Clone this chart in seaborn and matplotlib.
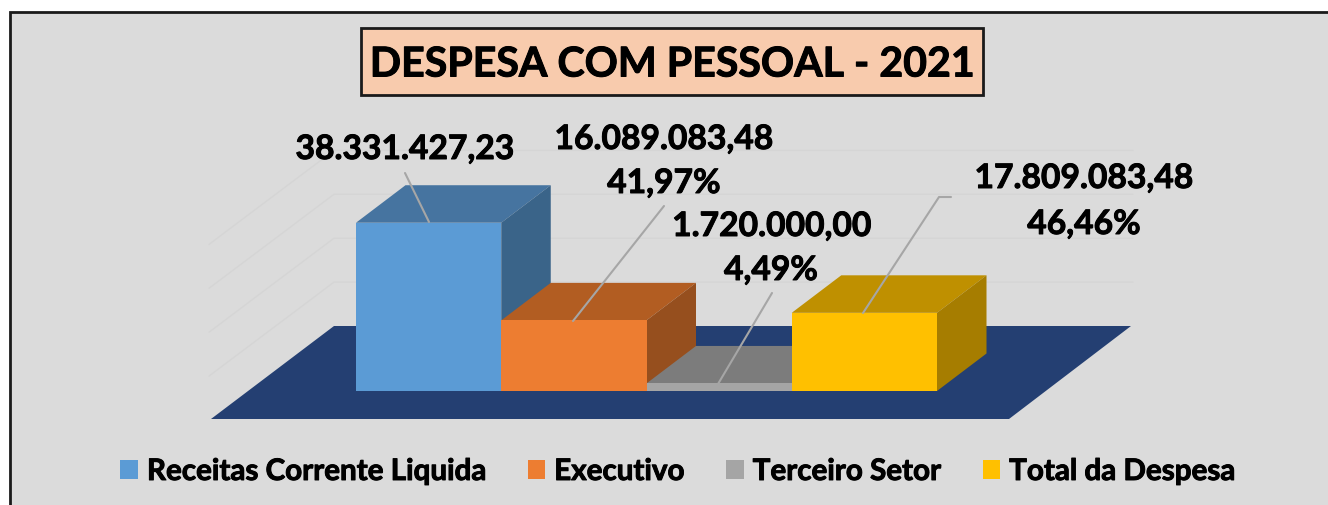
import pandas as pd
import seaborn as sns
import matplotlib.pyplot as plt
import matplotlib.patheffects as pe
from matplotlib.patches import Polygon, Rectangle
from matplotlib.transforms import Affine2D

categorias = ['Receitas Corrente Liquida', 'Executivo', 'Terceiro Setor', 'Total da Despesa']
valores = [38331427.23, 16089083.48, 1720000.00, 17809083.48]
rotulos_valor = ['38.331.427,23', '16.089.083,48', '1.720.000,00', '17.809.083,48']
rotulos_pct = ['', '41,97%', '4,49%', '46,46%']
cores_frente = ['#5B9BD5', '#ED7D31', '#A5A5A5', '#FFC000']
cores_topo = ['#4674A0', '#B25D22', '#7C7C7C', '#BF9000']
cores_lado = ['#3A6489', '#964F1E', '#636363', '#A67D00']
grade = [0, 10000000, 20000000, 30000000, 40000000]

W, H = 1328, 506
sns.set_style('white')
plt.rcParams['font.family'] = ['Lato', 'DejaVu Sans']

fig = plt.figure(figsize=(W / 100, H / 100), dpi=100, facecolor='white')
ax = fig.add_axes([0, 0, 1, 1])

df = pd.DataFrame({'categoria': categorias, 'valor': valores})
sns.barplot(data=df, x='categoria', y='valor', hue='categoria', hue_order=categorias,
            palette=cores_frente, width=1, dodge=False, saturation=1, ax=ax,
            edgecolor='none', linewidth=0, legend=False)

# escala em pixels: barras de 356 a 937, base em y=391
px_cat = (937 - 356) / 4
px_val = 4.39 / 1e6
ax.set_xlim(-0.5 - 356 / px_cat, -0.5 + (W - 356) / px_cat)
ax.set_ylim(-(H - 392) / px_val, 392 / px_val)
ax.set_axis_off()

# transform em pixels da imagem (y para baixo)
px = Affine2D().scale(1, -1).translate(0, H - 1)
def pol(pts, **kw):
    ax.add_patch(Polygon(pts, closed=True, transform=px, lw=0, **kw))
def lin(xs, ys, **kw):
    ax.plot(xs, ys, transform=px, **kw)
def y_px(v):
    return H - 1 - ax.transData.transform((0, v))[1]

ax.add_patch(Rectangle((10, 12), W, H, transform=px, fc='#DBDBDB', ec='#1A1A1A', lw=2, zorder=0))

# grade das paredes
for v in grade[1:]:
    yg = y_px(v) - 65
    lin([209, 334, 1133], [yg + 94, yg, yg], color='#D5D5D5', lw=1, zorder=1)

pol([(211, 419), (1009, 419), (1131, 326), (334, 326)], fc='#243F72', zorder=2)

# faces 3D a partir das barras
dx, dy = 49.5, 37.5
barras = list(ax.patches[:4])
for i, b in enumerate(barras):
    x0 = ax.transData.transform((b.get_x(), 0))[0]
    x1 = ax.transData.transform((b.get_x() + b.get_width(), 0))[0]
    y0, y1 = y_px(0), y_px(b.get_height())
    pol([(x0, y1), (x1, y1), (x1 + dx, y1 - dy), (x0 + dx, y1 - dy)], fc=cores_topo[i], zorder=3 + i * 0.1)
    pol([(x1, y0), (x1, y1), (x1 + dx, y1 - dy), (x1 + dx, y0 - dy)], fc=cores_lado[i], zorder=3 + i * 0.1)
    b.set_zorder(3.05 + i * 0.1)

# linhas de chamada
cor_linha = '#A6A6A6'
lin([405, 429], [173, 222], color=cor_linha, lw=1.5, zorder=6)
lin([664, 573], [206, 321], color=cor_linha, lw=1.5, zorder=6)
lin([772, 718], [293, 384], color=cor_linha, lw=1.5, zorder=6)
lin([951, 939, 863], [197, 197, 313], color=cor_linha, lw=1.5, zorder=6)

grosso = [pe.withStroke(linewidth=0.7, foreground='black')]
def txt(x, y, s, size=24.2):
    ax.text(x, y, s, transform=px, ha='center', va='center', fontsize=size,
            fontweight='bold', color='black', zorder=7, path_effects=grosso)

txt(405, 149, rotulos_valor[0])
txt(664, 139, rotulos_valor[1])
txt(664, 183, rotulos_pct[1])
txt(772, 226, rotulos_valor[2])
txt(771, 270, rotulos_pct[2])
txt(1084, 178, rotulos_valor[3])
txt(1084, 224, rotulos_pct[3])

# titulo
ax.add_patch(Rectangle((361, 28), 622, 67, transform=px, fc='#F8CBAD', ec='#1A1A1A', lw=2, zorder=6))
txt(672, 65, 'DESPESA COM PESSOAL - 2021', size=29.6)

ax.legend(barras, categorias, ncol=4, loc='center', bbox_to_anchor=(678 / W, 1 - 472 / H), frameon=False,
          prop={'weight': 'bold', 'size': 21.3}, handlelength=0.6, handleheight=0.62,
          handletextpad=0.3, columnspacing=1.41, labelcolor='black')
for t in ax.get_legend().get_texts():
    t.set_path_effects(grosso)

fig.savefig('out.png', dpi=100)
